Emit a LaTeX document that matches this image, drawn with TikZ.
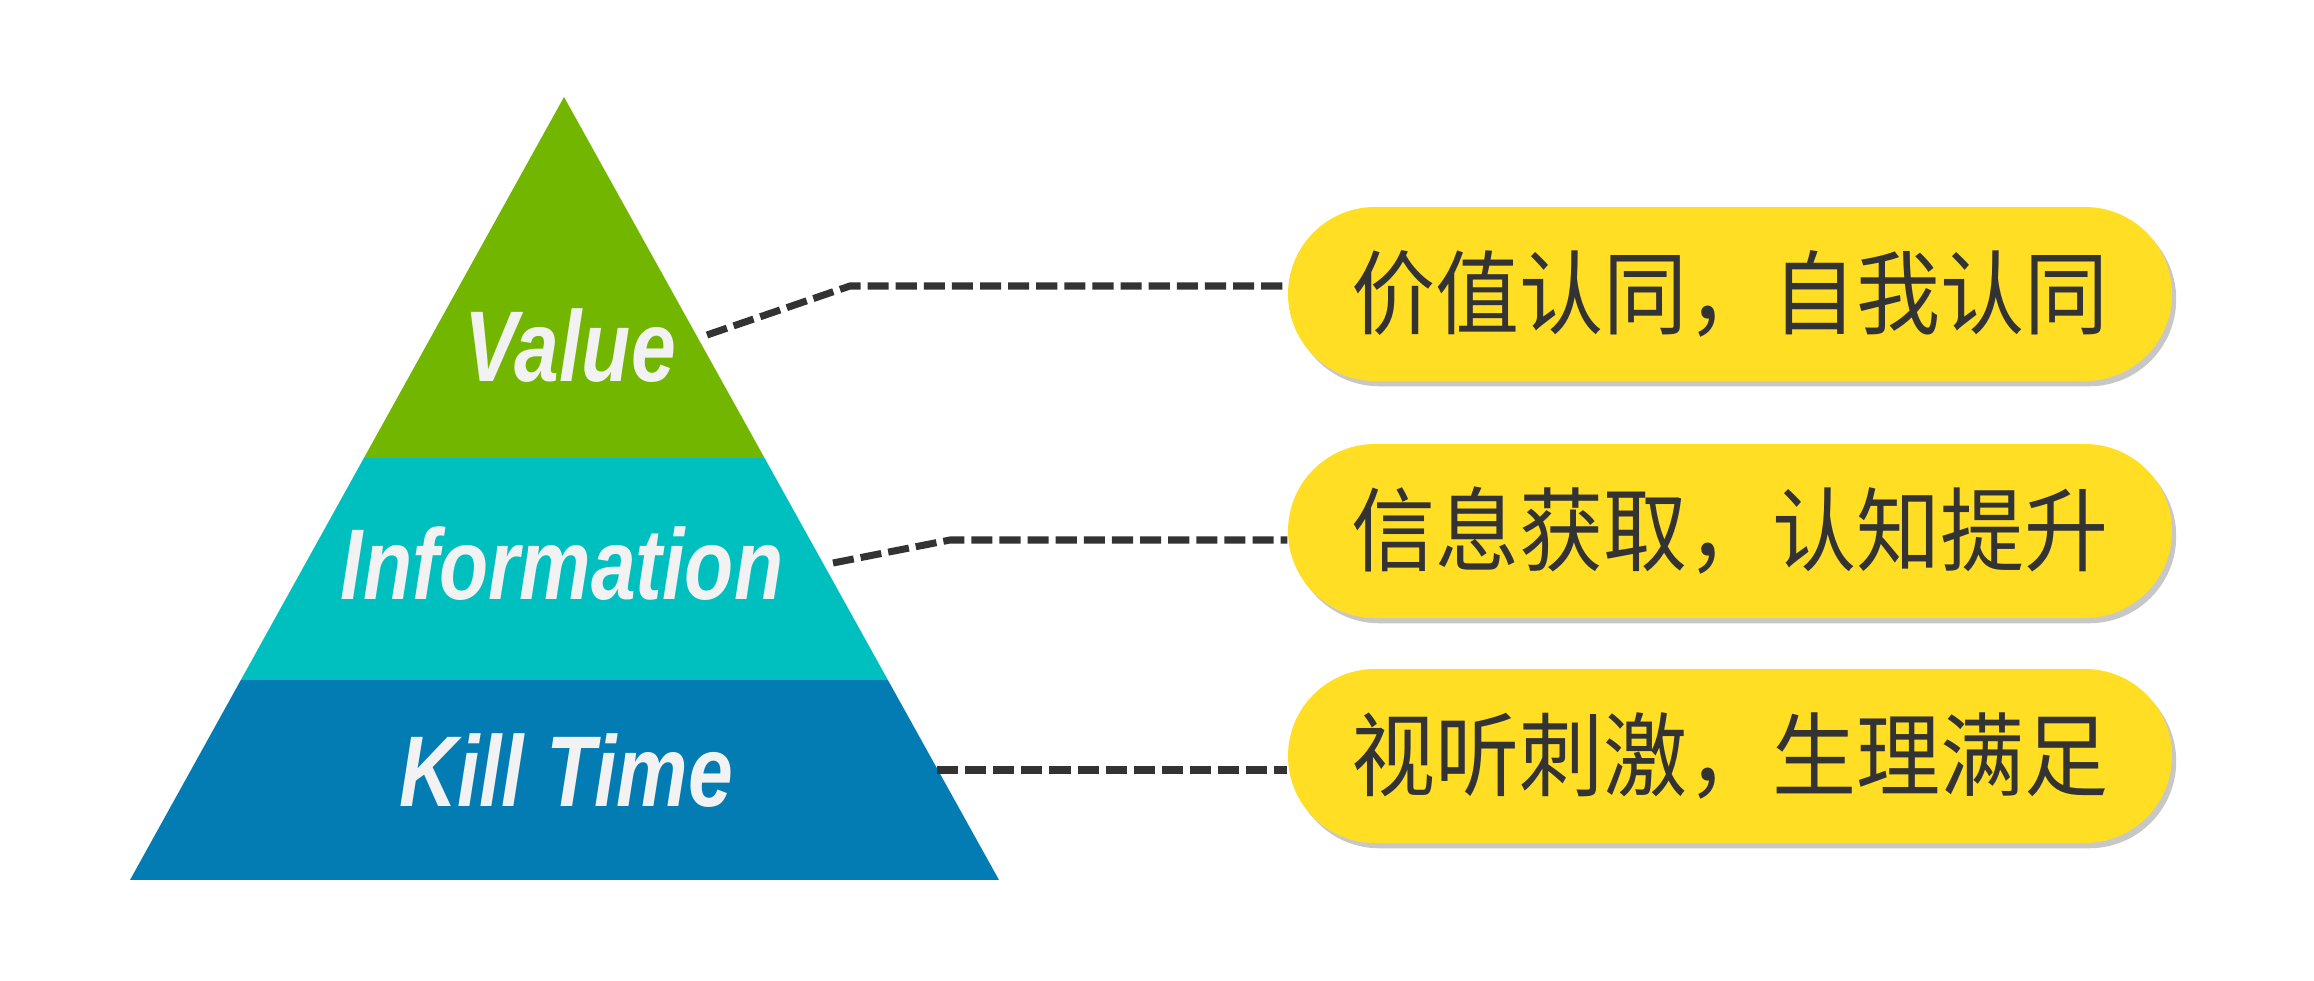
\documentclass[tikz,border=0pt]{standalone}
\usepackage{fontspec}
\usepackage{tikz}
\usetikzlibrary{shadows}

\newfontfamily\layerfont[FakeStretch=0.8]{Liberation Sans}
\newfontfamily\cjk[FakeStretch=0.92]{Noto Sans CJK SC}

\definecolor{valgreen}{HTML}{72B600}
\definecolor{infocyan}{HTML}{00BFBF}
\definecolor{killblue}{HTML}{027CB3}
\definecolor{pillyellow}{HTML}{FFDE24}
\definecolor{inkgray}{HTML}{333333}
\definecolor{labelwhite}{HTML}{F2F2F2}

\begin{document}
\begin{tikzpicture}[
    layer/.style={anchor=base, text=labelwhite,
      font=\layerfont\bfseries\itshape\fontsize{28.6pt}{30pt}\selectfont},
    pill/.style={fill=pillyellow, rounded corners=0.87cm,
      minimum width=8.84cm, minimum height=1.74cm, text=inkgray,
      font=\cjk\fontsize{26pt}{28pt}\selectfont,
      drop shadow={shadow xshift=1.2pt, shadow yshift=-1.5pt, fill=black, opacity=0.22}},
    link/.style={inkgray, line width=2pt, dash pattern=on 6pt off 2pt}]

    \useasboundingbox (0,0) rectangle (23.14,9.80);

    %% 金字塔
    \begin{scope}
      \clip (5.64,8.83) -- (1.30,1.00) -- (9.99,1.00) -- cycle;
      \fill[killblue]  (1.0,1.00) rectangle (10.5,3.00);
      \fill[infocyan]  (1.0,3.00) rectangle (10.5,5.225);
      \fill[valgreen]  (1.0,5.225) rectangle (10.5,9.00);
    \end{scope}

    \node[layer] (vtxt) at (5.70,5.99) {Value};
    \node[layer] (itxt) at (5.62,3.81) {Information};
    \node[layer] (ktxt) at (5.66,1.74) {Kill Time};

    %% 右侧说明
    \node[pill] (val)  at (17.30,6.86) {价值认同，自我认同};
    \node[pill] (info) at (17.30,4.49) {信息获取，认知提升};
    \node[pill] (kill) at (17.30,2.24) {视听刺激，生理满足};

    %% 虚线
    \coordinate (s1) at (7.07,6.45);
    \coordinate (k1) at (8.50,6.94);
    \coordinate (s2) at (8.33,4.17);
    \coordinate (k2) at (9.50,4.40);
    \coordinate (s3) at (9.37,2.10);

    \draw[link] (s1) -- (k1) -- (k1 -| val.west);
    \draw[link] (s2) -- (k2) -- (k2 -| info.west);
    \draw[link] (s3) -- (s3 -| kill.west);

  \end{tikzpicture}
\end{document}
